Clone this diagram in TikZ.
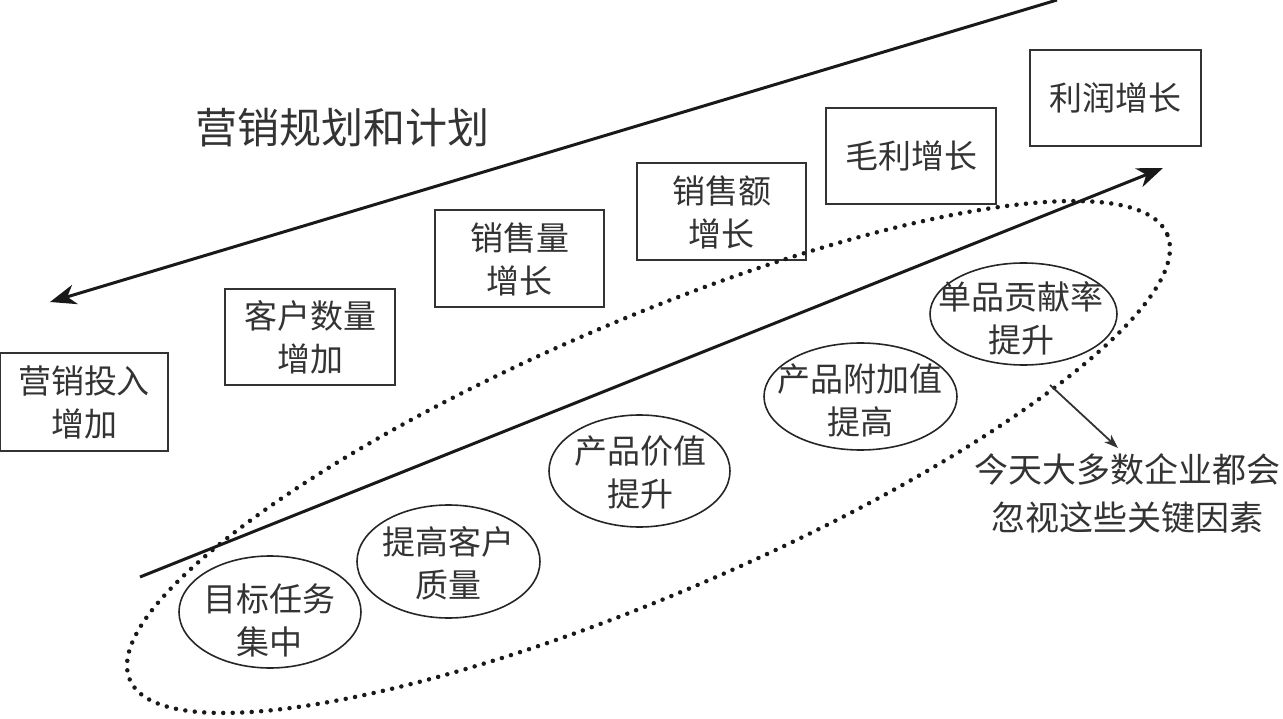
\documentclass[tikz,border=0pt]{standalone}
\usepackage{fontspec}
\newfontfamily\cjk{Noto Sans CJK SC}
\usetikzlibrary{shapes.geometric,arrows.meta}
\begin{document}
\begin{tikzpicture}[x=1pt,y=-1pt,
  txt/.style={font=\cjk\fontsize{33}{43}\selectfont, text=black!80, align=center, inner sep=0pt},
  bx/.style={txt, draw=black!80, line width=2pt},
  ov/.style={draw=black!85, line width=1.6pt, ellipse, inner sep=0pt},
  bigarrow/.style={line width=3pt, draw=black!90, -{Stealth[length=26pt,width=20pt,inset=8pt]}},
  smallarrow/.style={line width=1.8pt, draw=black!80, -{Stealth[length=14pt,width=10pt,inset=4pt]}},
  dots/.style={draw=black!90, line width=4.5pt, line cap=round, dash pattern=on 0pt off 9.5pt}
]
\useasboundingbox (0,0) rectangle (1283,719);

% boxes
\node[bx, minimum width=168, minimum height=98] (b1) at (84,402) {营销投入\\增加};
\node[bx, minimum width=170, minimum height=96] (b2) at (310,337) {客户数量\\增加};
\node[bx, minimum width=169, minimum height=97] (b3) at (519.5,259) {销售量\\增长};
\node[bx, minimum width=169, minimum height=97] (b4) at (721.5,212) {销售额\\增长};
\node[bx, minimum width=170, minimum height=96] (b5) at (911,156) {毛利增长};
\node[bx, minimum width=171, minimum height=96] (b6) at (1115.5,98) {利润增长};

% title
\node[txt, font=\cjk\fontsize{42}{44}\selectfont] (title) at (342,128) {营销规划和计划};

% ellipses
\node[ov, minimum width=182, minimum height=112] (e1) at (270,612) {};
\node[txt] (e1t) at (269,620) {目标任务\\集中};
\node[ov, minimum width=183, minimum height=113] (e2) at (448.5,561.5) {};
\node[txt] (e2t) at (448,563) {提高客户\\质量};
\node[ov, minimum width=181, minimum height=112] (e3) at (639.5,471) {};
\node[txt] (e3t) at (640,472) {产品价值\\提升};
\node[ov, minimum width=193, minimum height=107] (e4) at (860.5,396.5) {};
\node[txt] (e4t) at (860,400) {产品附加值\\提高};
\node[ov, minimum width=187, minimum height=102] (e5) at (1023.5,314) {};
\node[txt] (e5t) at (1021,318) {单品贡献率\\提升};

% dotted envelope
\node[dots, ellipse, rotate=23.25, minimum width=1129, minimum height=274, inner sep=0pt] (env) at (648.5,457) {};

% note
\node[txt, font=\cjk\fontsize{34}{48}\selectfont] (note) at (1127,494) {今天大多数企业都会\\忽视这些关键因素};

% arrows
\coordinate (t1) at (1057,0);
\coordinate (t2) at (50,302);
\draw[bigarrow] (t1) -- (t2);
\coordinate (l1) at (140,577);
\coordinate (l2) at (1163,168);
\draw[bigarrow] (l1) -- (l2);
\coordinate (s1) at (1050,385);
\coordinate (s2) at (1118,448);
\draw[smallarrow] (s1) -- (s2);
\end{tikzpicture}
\end{document}
